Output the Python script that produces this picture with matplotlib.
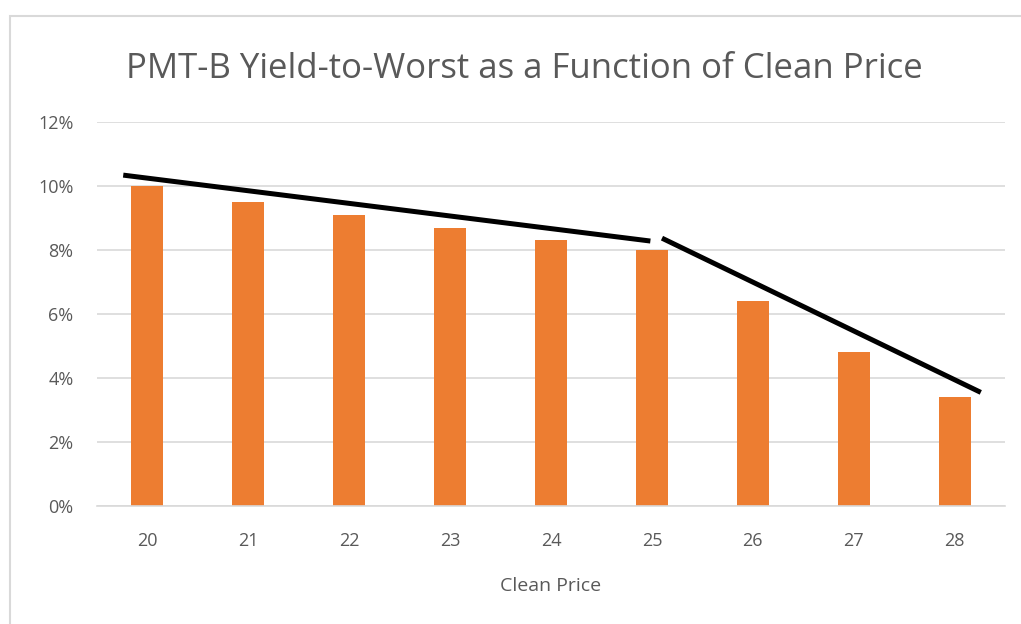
import matplotlib
matplotlib.use("Agg")
import matplotlib.pyplot as plt
from matplotlib.patches import Rectangle

prices = ["20", "21", "22", "23", "24", "25", "26", "27", "28"]
ytw = [10.0, 9.5, 9.1, 8.7, 8.3, 8.0, 6.4, 4.8, 3.4]  # percent
yticks = [0, 2, 4, 6, 8, 10, 12]
ytick_labels = ["0%", "2%", "4%", "6%", "8%", "10%", "12%"]

# hand-drawn trend annotations (category index, percent)
trend1_x = [-0.24, 4.985]
trend1_y = [10.34, 8.28]
trend2_x = [5.10, 8.26]
trend2_y = [8.37, 3.55]

W, H = 1021, 624
fig = plt.figure(figsize=(W / 100, H / 100), dpi=100)
fig.patch.set_facecolor("white")

font = ["Liberation Sans Narrow", "Open Sans", "DejaVu Sans"]
gray = "#595959"

# outer chart border
fig.patches.append(Rectangle((10 / W, -0.1), 1.2, 1 - 16 / H + 0.1,
                             transform=fig.transFigure, fill=False,
                             edgecolor="#d9d9d9", linewidth=1.5))

ax = fig.add_axes([97 / W, 1 - 506 / H, (1005 - 97) / W, (506 - 122) / H])
x = list(range(len(prices)))
ax.bar(x, ytw, width=0.317, color="#ed7d31", zorder=2)
ax.plot(trend1_x, trend1_y, color="black", linewidth=3.6, solid_capstyle="butt", zorder=3)
ax.plot(trend2_x, trend2_y, color="black", linewidth=3.6, solid_capstyle="butt", zorder=3)

ax.set_xlim(-0.5, len(prices) - 0.5)
ax.set_ylim(0, 12)
ax.set_yticks(yticks)
ax.set_yticklabels(ytick_labels)
ax.set_xticks(x)
ax.set_xticklabels(prices)
ax.yaxis.grid(True, color="#d9d9d9", linewidth=1.2, zorder=0)
ax.set_axisbelow(True)
for s in ["top", "right", "left"]:
    ax.spines[s].set_visible(False)
ax.spines["bottom"].set_color("#d9d9d9")
ax.spines["bottom"].set_linewidth(1.2)
ax.tick_params(axis="both", length=0, labelcolor=gray, labelsize=13)
ax.tick_params(axis="y", pad=17)
ax.tick_params(axis="x", pad=19)
for lab in ax.get_xticklabels() + ax.get_yticklabels():
    lab.set_family(font)

ax.set_xlabel("Clean Price", fontsize=14, color=gray, family=font, labelpad=19)
fig.text(524 / W, 1 - 69 / H, "PMT-B Yield-to-Worst as a Function of Clean Price",
         ha="center", va="center", fontsize=25, color=gray, family=font)

fig.savefig("out.png", dpi=100)
